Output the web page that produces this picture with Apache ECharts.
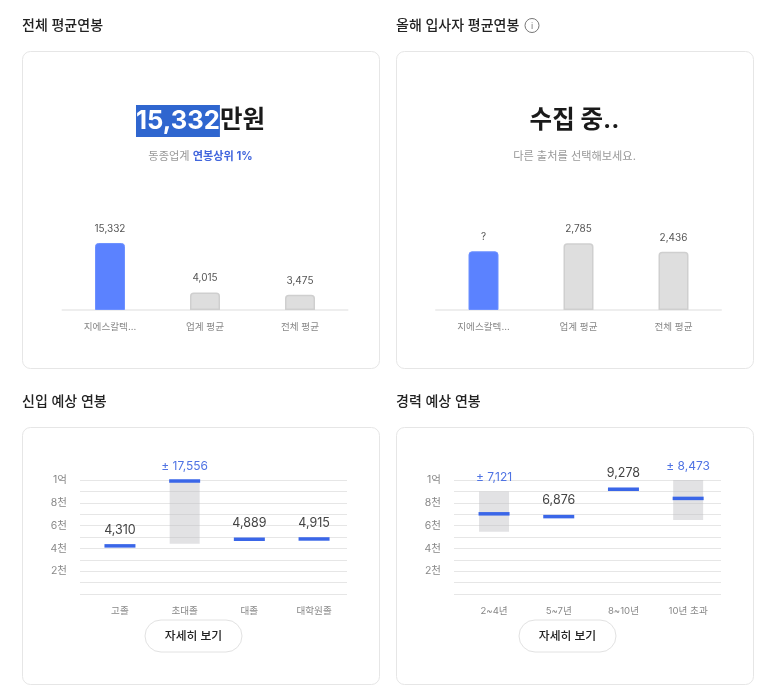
<!DOCTYPE html>
<html>
<head>
<meta charset="utf-8">
<style>
  html, body { margin: 0; padding: 0; background: #fff; }
  #chart { width: 773px; height: 690px; }
</style>
<script src="https://cdn.jsdelivr.net/npm/echarts@6/dist/echarts.min.js"></script>
</head>
<body>
<div id="chart"></div>
<script>
const FONT = 'Inter, "Noto Sans CJK KR", sans-serif'

const avgCategories = ['지에스칼텍...', '업계 평균', '전체 평균']
const avgValues = [15332, 4015, 3475]
// 왼쪽 막대만 값이 없음, 높이는 그림에서 읽음
const hireValues = [2450, 2785, 2436]
const hireLabels = ['?', '2,785', '2,436']

const newCategories = ['고졸', '초대졸', '대졸', '대학원졸']
const newValues = [4310, 17556, 4889, 4915]
const newBandLow = [null, 4400, null, null]
const newBandHigh = [null, 10000, null, null]

const expCategories = ['2~4년', '5~7년', '8~10년', '10년 초과']
const expValues = [7121, 6876, 9278, 8473]
const expBandLow = [5470, null, null, 6500]
const expBandHigh = [9000, null, null, 10000]

const tickValues = [2000, 4000, 6000, 8000, 10000]
const tickLabels = ['2천', '4천', '6천', '8천', '1억']
const rangeMax = 10000

const grids = []
const xAxes = []
const yAxes = []
const series = []

const fmt = v => v.toLocaleString('en-US')

function addBars (left, max, categories, values, labels) {
  const i = grids.length
  grids.push({ left, width: 285, top: 210, height: 100 })
  xAxes.push({
    gridIndex: i,
    type: 'category',
    data: categories,
    axisTick: { show: false },
    axisLine: { lineStyle: { color: '#eeeeee', width: 2 } },
    axisLabel: { color: '#888', fontSize: 9.6, fontFamily: FONT, margin: 12, interval: 0 }
  })
  yAxes.push({ gridIndex: i, type: 'value', min: 0, max, show: false })
  series.push({
    type: 'bar',
    xAxisIndex: i,
    yAxisIndex: i,
    barWidth: 30,
    data: values.map((value, n) => ({
      value,
      itemStyle: n === 0
        ? { color: '#5b82ff', borderColor: '#6d90ff', borderWidth: 1, borderRadius: [3, 3, 0, 0] }
        : { color: '#dedede', borderColor: '#cfcfcf', borderWidth: 1.5, borderRadius: [3, 3, 0, 0] }
    })),
    label: {
      show: true,
      position: 'top',
      distance: 9,
      color: '#555',
      fontSize: 10,
      fontFamily: FONT,
      formatter: p => labels[p.dataIndex]
    }
  })
}

function addRange (lineLeft, dataLeft, categories, values, low, high) {
  // 눈금선은 막대 영역보다 왼쪽에서 시작해서 grid 를 따로 둠
  const a = grids.length
  grids.push({ left: lineLeft, width: 267, top: 480, height: 114 })
  xAxes.push({ gridIndex: a, type: 'category', data: categories, show: false })
  yAxes.push({
    gridIndex: a,
    type: 'value',
    min: 0,
    max: rangeMax,
    interval: 1000,
    axisLine: { show: false },
    axisTick: { show: false },
    splitLine: { lineStyle: { color: '#e6e6e6', width: 1 } },
    axisLabel: {
      color: '#888',
      fontSize: 10.5,
      fontFamily: FONT,
      margin: 13,
      formatter: v => tickLabels[tickValues.indexOf(v)] || ''
    }
  })

  const b = grids.length
  grids.push({ left: dataLeft, width: 258.8, top: 480, height: 114 })
  xAxes.push({
    gridIndex: b,
    type: 'category',
    data: categories,
    axisLine: { show: false },
    axisTick: { show: false },
    axisLabel: { color: '#888', fontSize: 9.6, fontFamily: FONT, margin: 12, interval: 0 }
  })
  yAxes.push({ gridIndex: b, type: 'value', min: 0, max: rangeMax, show: false })

  const stack = 'band' + b
  series.push({
    type: 'bar',
    stack,
    xAxisIndex: b,
    yAxisIndex: b,
    barWidth: 30,
    silent: true,
    itemStyle: { color: 'transparent' },
    data: low
  })
  series.push({
    type: 'bar',
    stack,
    xAxisIndex: b,
    yAxisIndex: b,
    barWidth: 30,
    itemStyle: { color: 'rgba(190, 190, 195, 0.45)' },
    data: high.map((v, n) => v === null ? null : v - low[n]),
    label: {
      show: true,
      position: 'top',
      distance: 8,
      color: '#4f73e3',
      fontSize: 12,
      fontFamily: FONT,
      formatter: p => '± ' + fmt(values[p.dataIndex])
    }
  })
  series.push({
    type: 'scatter',
    xAxisIndex: b,
    yAxisIndex: b,
    clip: false,
    z: 5,
    symbol: 'rect',
    symbolSize: [31, 3.5],
    symbolOffset: [0, 1],
    itemStyle: { color: '#3a66e8', opacity: 1 },
    // 축 최대값을 넘는 값은 맨 위에 붙음
    data: values.map(v => Math.min(v, rangeMax)),
    label: {
      show: true,
      position: 'top',
      distance: 8,
      color: '#444',
      fontSize: 12.5,
      fontFamily: FONT,
      formatter: p => low[p.dataIndex] === null ? fmt(values[p.dataIndex]) : ''
    }
  })
}

addBars(62.5, 22880, avgCategories, avgValues, avgValues.map(fmt))
addBars(436, 4175, avgCategories, hireValues, hireLabels)
addRange(80, 87.6, newCategories, newValues, newBandLow, newBandHigh)
addRange(454, 461.7, expCategories, expValues, expBandLow, expBandHigh)

const card = (x, y, width, height) => ({
  type: 'rect',
  z: -1,
  shape: { x: x + 0.5, y: y + 0.5, width, height, r: 8 },
  style: { fill: '#fff', stroke: '#e6e6e6', lineWidth: 1 }
})

const text = (x, y, value, style) => ({
  type: 'text',
  x,
  y,
  z: 10,
  style: {
    text: value,
    fontFamily: FONT,
    textAlign: 'center',
    textVerticalAlign: 'middle',
    ...style
  }
})

const heading = (x, y, value) => text(x, y, value, {
  textAlign: 'left',
  fontSize: 14,
  fontWeight: 500,
  fill: '#222'
})

const button = (cx, cy) => [
  {
    type: 'rect',
    z: 10,
    shape: { x: cx - 48.5, y: cy - 16, width: 97, height: 32, r: 16 },
    style: { fill: '#fff', stroke: '#e2e2e2', lineWidth: 1 }
  },
  text(cx, cy, '자세히 보기', { fontSize: 11.8, fontWeight: 500, fill: '#222' })
]

const graphicElements = [
  card(22, 51, 357, 317),
  card(396, 51, 357, 317),
  card(22, 427, 357, 257),
  card(396, 427, 357, 257),
  heading(22, 26, '전체 평균연봉'),
  heading(396, 26, '올해 입사자 평균연봉'),
  heading(22, 402, '신입 예상 연봉'),
  heading(396, 402, '경력 예상 연봉'),
  {
    type: 'circle',
    z: 10,
    shape: { cx: 532, cy: 25.5, r: 7 },
    style: { fill: 'none', stroke: '#777', lineWidth: 1 }
  },
  text(532, 26, 'i', { fontSize: 9, fill: '#777' }),
  text(200.5, 121, '{sel|15,332}{won|만원}', {
    rich: {
      sel: {
        fontSize: 25.6,
        fontWeight: 700,
        fontFamily: FONT,
        fill: '#fff',
        backgroundColor: '#2f66cf',
        height: 32,
        lineHeight: 32
      },
      won: {
        fontSize: 24.5,
        fontWeight: 700,
        fontFamily: FONT,
        fill: '#1a1a1a',
        lineHeight: 32
      }
    }
  }),
  text(200.5, 157, '{a|동종업계 }{b|연봉상위 1%}', {
    rich: {
      a: { fontSize: 11.2, fontFamily: FONT, fill: '#999' },
      b: { fontSize: 11.2, fontFamily: FONT, fontWeight: 700, fill: '#4266dd' }
    }
  }),
  text(574.5, 121, '수집 중..', { fontSize: 24.5, fontWeight: 700, fill: '#1a1a1a' }),
  text(574.5, 157, '다른 출처를 선택해보세요.', { fontSize: 11.2, fill: '#999' }),
  ...button(193.5, 636),
  ...button(567.5, 636)
]

const chart = echarts.init(document.getElementById('chart'))
chart.setOption({
  animation: false,
  backgroundColor: '#fff',
  textStyle: { fontFamily: FONT },
  grid: grids,
  xAxis: xAxes,
  yAxis: yAxes,
  series,
  graphic: graphicElements
})
</script>
</body>
</html>
